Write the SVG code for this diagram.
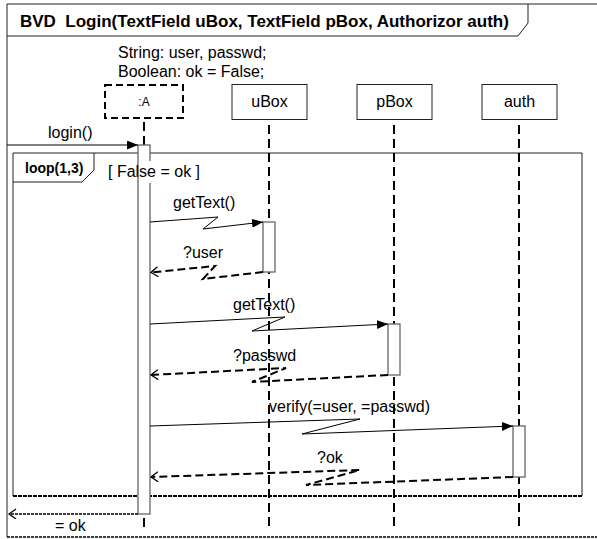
<svg xmlns="http://www.w3.org/2000/svg" width="597" height="539" viewBox="0 0 597 539">
<style>
text{font-family:"Liberation Sans",Arial,sans-serif;fill:#000}
.t16{font-size:16px}
.title{font-size:17px;font-weight:bold;white-space:pre}
.frame{fill:none;stroke:#222;stroke-width:1}
.head{fill:#fff;stroke:#222;stroke-width:1}
.life{stroke:#000;stroke-width:2;stroke-dasharray:9,5;fill:none}
.act{fill:#fff;stroke:#666;stroke-width:1.3}
.msg{fill:none;stroke:#000;stroke-width:1}
.ret{fill:none;stroke:#000;stroke-width:2;stroke-dasharray:8,4}
</style>
<defs>
<marker id="filled" markerWidth="12" markerHeight="10" refX="11" refY="4.5" orient="auto" markerUnits="userSpaceOnUse">
<path d="M0,0 L11,4.5 L0,9 Z" fill="#000"/>
</marker>
<marker id="open" markerWidth="12" markerHeight="12" refX="1" refY="5" orient="auto" markerUnits="userSpaceOnUse">
<path d="M8,0 L1,5 L8,10" fill="none" stroke="#000" stroke-width="1.3"/>
</marker>
<marker id="openr" markerWidth="12" markerHeight="12" refX="9" refY="5" orient="auto" markerUnits="userSpaceOnUse">
<path d="M2,0 L9,5 L2,10" fill="none" stroke="#000" stroke-width="1.3"/>
</marker>
</defs>
<rect width="597" height="539" fill="#fff"/>

<g id="frame">
<path class="frame" d="M7,537 V4 H597"/>
<path d="M7,537 H597" stroke="#000" stroke-width="1.5" stroke-dasharray="3,1" fill="none"/>
<path class="frame" d="M7,36 H518 L528,23 V4"/>
<text class="title" x="20" y="26.5">BVD  Login(TextField uBox, TextField pBox, Authorizor auth)</text>
<text class="t16" x="118" y="58">String: user, passwd;</text>
<text class="t16" x="118" y="77">Boolean: ok = False;</text>
</g>

<g id="loop">
<path class="frame" d="M13,496 V153 H582 V496"/>
<path d="M13,496 H582" stroke="#000" stroke-width="2" stroke-dasharray="4,1" fill="none"/>
<path class="frame" d="M13,182 H82 L94,170 V153"/>
<text x="25" y="173" style="font-size:14px;font-weight:bold">loop(1,3)</text>
</g>

<g id="lifelines">
<path class="life" d="M144,122 V145 M144,518 V528"/>
<path class="life" d="M269,125 V528"/>
<path class="life" d="M394,125 V528"/>
<path class="life" d="M519,125 V528"/>
</g>

<g id="node-A">
<rect x="105" y="85" width="78" height="33" fill="#fff" stroke="#000" stroke-width="2" stroke-dasharray="7,4"/>
<text x="144" y="106" text-anchor="middle" style="font-size:12px">:A</text>
<rect class="act" x="138" y="145" width="12" height="369"/>
</g>
<g id="node-uBox">
<rect class="head" x="232" y="84.5" width="75" height="35"/>
<text class="t16" x="269.5" y="107" text-anchor="middle">uBox</text>
<rect class="act" x="263" y="222" width="12" height="50"/>
</g>
<g id="node-pBox">
<rect class="head" x="357" y="84.5" width="75" height="35"/>
<text class="t16" x="394.5" y="107" text-anchor="middle">pBox</text>
<rect class="act" x="388" y="324" width="12" height="51"/>
</g>
<g id="node-auth">
<rect class="head" x="482" y="84.5" width="75" height="35"/>
<text class="t16" x="519.5" y="107" text-anchor="middle">auth</text>
<rect class="act" x="513" y="426" width="12" height="51"/>
</g>

<g id="guard">
<rect x="97" y="161" width="117" height="22" fill="#fff"/>
<line x1="138" y1="161" x2="138" y2="183" stroke="#666" stroke-width="1.3"/>
<text class="t16" x="108" y="177">[ False = ok ]</text>
</g>

<g id="connectors">
<path class="msg" d="M7,145 H138" marker-end="url(#filled)"/>
<path class="msg" d="M150,222 L218,217 L203,229 L263,222" marker-end="url(#filled)"/>
<path class="ret" d="M263,272 L203,279 L215,266 L151,272.5" marker-end="url(#openr)"/>
<path class="msg" d="M150,324 L285,317 L252,331 L388,324" marker-end="url(#filled)"/>
<path class="ret" d="M388,375 L252,382 L286,368 L151,375" marker-end="url(#openr)"/>
<path class="msg" d="M150,426 L360,419 L302,434 L513,426" marker-end="url(#filled)"/>
<path class="ret" d="M513,477 L306,485 L360,470 L151,477" marker-end="url(#openr)"/>
<path d="M138,514 H9" fill="none" stroke="#000" stroke-width="1.5" stroke-dasharray="3,1" marker-end="url(#openr)"/>
<text class="t16" x="48" y="138">login()</text>
<text class="t16" x="173" y="208">getText()</text>
<text class="t16" x="183" y="258">?user</text>
<text class="t16" x="233" y="310">getText()</text>
<text class="t16" x="233" y="361">?passwd</text>
<text class="t16" x="269" y="412">verify(=user, =passwd)</text>
<text class="t16" x="317" y="463">?ok</text>
<text class="t16" x="55" y="531">= ok</text>
</g>
</svg>
